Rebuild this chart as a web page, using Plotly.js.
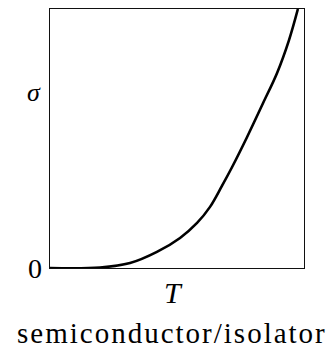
<!DOCTYPE html>
<html>
<head>
<meta charset="utf-8">
<script src="https://cdn.plot.ly/plotly-3.0.1.min.js"></script>
<style>
  html, body { margin: 0; padding: 0; background: #fff; }
  #chart { width: 331px; height: 348px; }
  /* wider tracking for the caption line */
  g.annotation[data-index="3"] text { letter-spacing: 2px; }
</style>
</head>
<body>
<div id="chart"></div>
<script>
// Conductivity sigma versus temperature T (arbitrary units) for a semiconductor/isolator
const temperature = [0, 0.197, 0.315, 0.421, 0.512, 0.579, 0.630, 0.677, 0.717, 0.776, 0.839, 0.894, 0.941, 0.976];
const conductivity = [0, 0.002, 0.019, 0.062, 0.116, 0.174, 0.236, 0.317, 0.390, 0.506, 0.637, 0.753, 0.880, 1.0];

const sigmaLabel = 'σ';
const zeroLabel = '0';
const tLabel = 'T';
const caption = 'semiconductor/isolator';

const serif = "'Liberation Serif', 'DejaVu Serif', serif";

const trace = {
  x: temperature,
  y: conductivity,
  type: 'scatter',
  mode: 'lines',
  line: { color: '#000', width: 2.6, shape: 'spline', smoothing: 1 },
  hoverinfo: 'skip'
};

const axisBase = {
  showline: true,
  mirror: true,
  linecolor: '#111',
  linewidth: 1.3,
  showgrid: false,
  zeroline: false,
  ticks: '',
  showticklabels: false,
  fixedrange: true
};

const layout = {
  width: 331,
  height: 348,
  margin: { l: 50, r: 27, t: 9, b: 80 },
  paper_bgcolor: '#fff',
  plot_bgcolor: '#fff',
  showlegend: false,
  xaxis: Object.assign({ range: [0, 1] }, axisBase),
  yaxis: Object.assign({ range: [0, 1] }, axisBase),
  annotations: [
    { text: '<i>' + sigmaLabel + '</i>', xref: 'paper', yref: 'paper', x: -0.063, y: 0.676,
      xanchor: 'center', yanchor: 'middle', showarrow: false,
      font: { family: serif, size: 26, color: '#000' } },
    { text: zeroLabel, xref: 'paper', yref: 'paper', x: -0.059, y: 0,
      xanchor: 'center', yanchor: 'middle', showarrow: false,
      font: { family: serif, size: 28, color: '#000' } },
    { text: '<i>' + tLabel + '</i>', xref: 'paper', yref: 'paper', x: 0.485, y: -0.093,
      xanchor: 'center', yanchor: 'middle', showarrow: false,
      font: { family: serif, size: 30, color: '#000' } },
    { text: caption, xref: 'paper', yref: 'paper', x: 0.480, y: -0.251,
      xanchor: 'center', yanchor: 'middle', showarrow: false,
      font: { family: serif, size: 29, color: '#000' } }
  ]
};

Plotly.newPlot('chart', [trace], layout, { displayModeBar: false, staticPlot: true });
</script>
</body>
</html>
